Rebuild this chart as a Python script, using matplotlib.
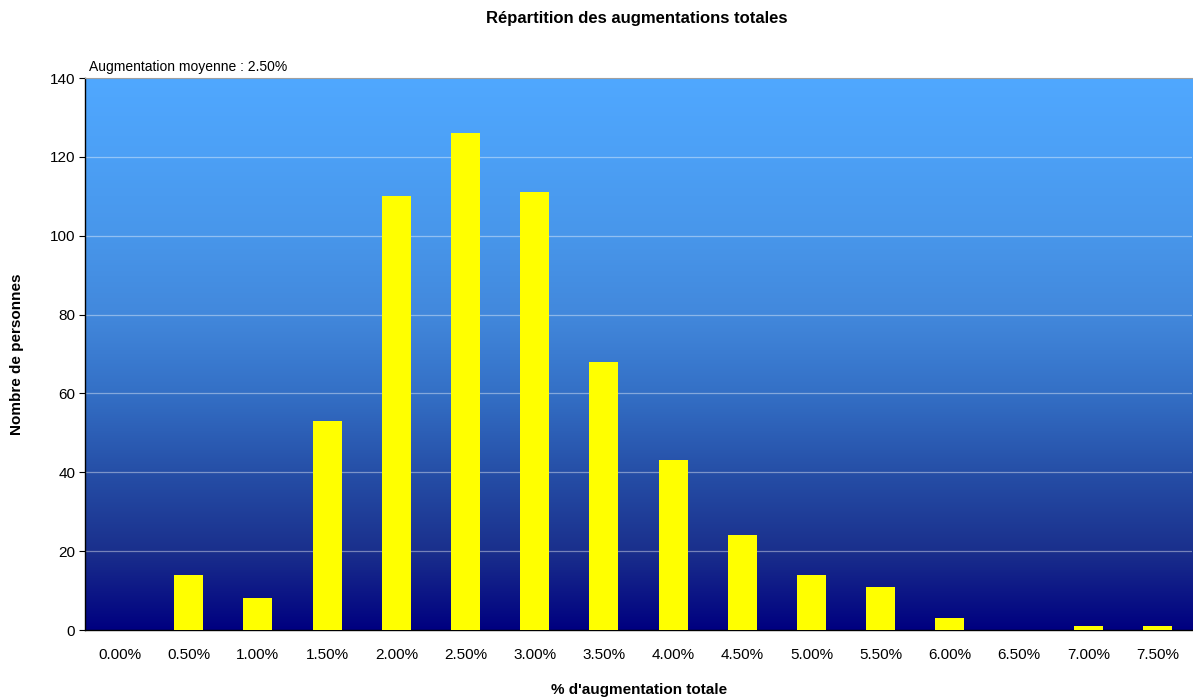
import numpy as np
import matplotlib.pyplot as plt
import matplotlib.colors as c

### Data
labels = ['0.00%', '0.50%', '1.00%', '1.50%', '2.00%', '2.50%', '3.00%', '3.50%',
          '4.00%', '4.50%', '5.00%', '5.50%', '6.00%', '6.50%', '7.00%', '7.50%']
counts = [0, 14, 8, 53, 110, 126, 111, 68, 43, 24, 14, 11, 3, 0, 1, 1]
yticks = [0, 20, 40, 60, 80, 100, 120, 140]

plt.rc('font', family='Liberation Sans')

fig = plt.figure(figsize=(11.93, 6.99), dpi=100)
ax = fig.add_axes([0.0712, 0.0987, 0.9280, 0.7897])

### Blue gradient background (stays light up top, darkens toward the base)
cmap = c.LinearSegmentedColormap.from_list('bg', [
    (0.00, '#000080'),
    (0.14, '#1a2f8c'),
    (0.29, '#2650a8'),
    (0.43, '#3470c6'),
    (0.57, '#4288dc'),
    (0.71, '#4896ea'),
    (0.86, '#4ca0f6'),
    (1.00, '#50a8ff')])
grad = np.linspace(0, 1, 256).reshape(-1, 1)
ax.imshow(grad, cmap=cmap, aspect='auto', origin='lower',
          extent=[-0.5, len(labels) - 0.5, 0, 140], zorder=0)

for y in yticks[1:-1]:
    ax.axhline(y, color='white', alpha=0.4, linewidth=0.9, zorder=1)

x = np.arange(len(labels))
ax.bar(x, counts, width=0.42, color='#ffff00', zorder=3)

ax.set_xlim(-0.5, len(labels) - 0.5)
ax.set_ylim(0, 140)
ax.set_xticks(x)
ax.set_xticklabels(labels, fontsize=11)
ax.set_yticks(yticks)
ax.set_yticklabels([str(v) for v in yticks], fontsize=11)
ax.tick_params(axis='x', length=0, pad=13)
ax.tick_params(axis='y', length=4, width=0.8, pad=3)

ax.spines['right'].set_visible(False)
ax.spines['top'].set_color('#a0a0a0')
ax.spines['left'].set_linewidth(1)
ax.spines['bottom'].set_linewidth(1)

fig.text(0.0142, 0.4927, 'Nombre de personnes', fontsize=11, fontweight='bold',
         rotation=90, ha='center', va='center')
fig.text(0.5355, 0.0129, "% d'augmentation totale", fontsize=11, fontweight='bold',
         ha='center', va='center')
fig.text(0.534, 0.974, 'Répartition des augmentations totales', fontsize=12,
         fontweight='bold', ha='center', va='center')
ax.text(0.004, 1.008, 'Augmentation moyenne : 2.50%', transform=ax.transAxes,
        fontsize=10, ha='left', va='bottom')

fig.savefig('out.png', dpi=100)
